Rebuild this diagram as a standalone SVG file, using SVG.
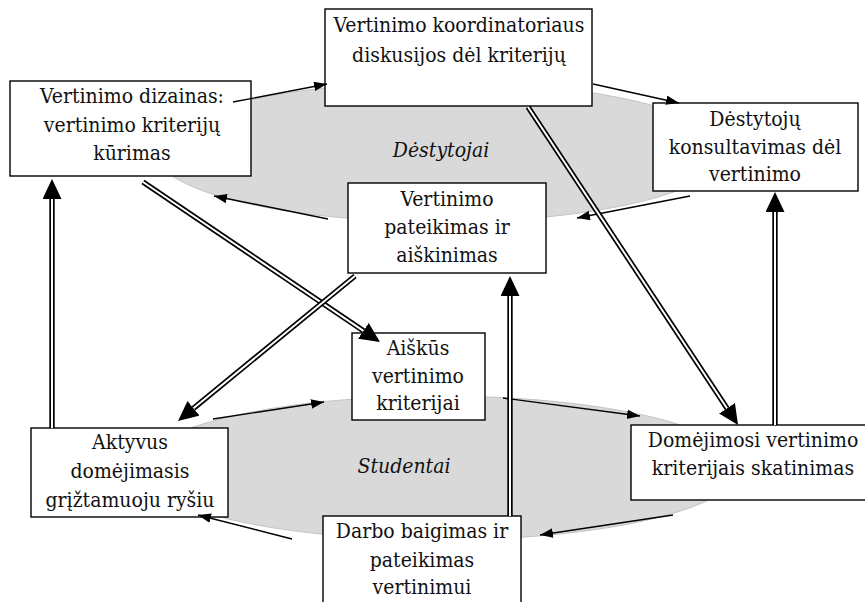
<svg xmlns="http://www.w3.org/2000/svg" width="865" height="602" viewBox="0 0 865 602">
  <style>
    .bg { fill: #ffffff; }
    .zone { fill: #d9d9d9; stroke: #c4c4c4; stroke-width: 1; }
    .box { fill: #ffffff; stroke: #000000; stroke-width: 1.4; }
    .lbl { font-family: "DejaVu Serif Condensed", "DejaVu Serif", serif; font-size: 21px; fill: #111111; text-anchor: middle; }
    .zone-lbl { font-family: "DejaVu Serif Condensed", "DejaVu Serif", serif; font-size: 21px; font-style: italic; fill: #111111; text-anchor: middle; }
    .thin { fill: none; stroke: #000000; stroke-width: 1.4; marker-end: url(#head-small); }
    .dbl-outer { fill: none; stroke: #000000; stroke-width: 5.4; marker-end: url(#head-large); }
    .dbl-inner { fill: none; stroke: #ffffff; stroke-width: 2; }
  </style>
  <defs>
    <marker id="head-small" markerUnits="userSpaceOnUse" markerWidth="14" markerHeight="10" refX="13" refY="4.75" orient="auto">
      <path d="M0,0 L13,4.75 L0,9.5 z" fill="#000000"/>
    </marker>
    <marker id="head-large" markerUnits="userSpaceOnUse" markerWidth="22" markerHeight="20" refX="0" refY="9.5" orient="auto">
      <path d="M0,0 L20,9.5 L0,19 z" fill="#000000"/>
    </marker>
  </defs>

  <rect class="bg" x="0" y="0" width="865" height="602"/>

  <!-- shaded group areas -->
  <g id="zone-destytojai">
    <ellipse class="zone" cx="440" cy="152" rx="285" ry="70"/>
    <text class="zone-lbl" x="441" y="157">Dėstytojai</text>
  </g>
  <g id="zone-studentai">
    <ellipse class="zone" cx="440" cy="468" rx="300" ry="72"/>
    <text class="zone-lbl" x="404" y="473">Studentai</text>
  </g>

  <!-- activity boxes -->
  <g id="n-dizainas">
    <rect class="box" x="10" y="81" width="241" height="95"/>
    <text class="lbl" x="132" y="103">Vertinimo dizainas:</text>
    <text class="lbl" x="132" y="132">vertinimo kriterijų</text>
    <text class="lbl" x="132" y="160">kūrimas</text>
  </g>
  <g id="n-koordinatorius">
    <rect class="box" x="325" y="9" width="267" height="97"/>
    <text class="lbl" x="459" y="32">Vertinimo koordinatoriaus</text>
    <text class="lbl" x="459" y="62">diskusijos dėl kriterijų</text>
  </g>
  <g id="n-konsultavimas">
    <rect class="box" x="653" y="103" width="205" height="88"/>
    <text class="lbl" x="755" y="126">Dėstytojų</text>
    <text class="lbl" x="755" y="154">konsultavimas dėl</text>
    <text class="lbl" x="755" y="181">vertinimo</text>
  </g>
  <g id="n-pateikimas">
    <rect class="box" x="348" y="183" width="198" height="90"/>
    <text class="lbl" x="447" y="206">Vertinimo</text>
    <text class="lbl" x="447" y="234">pateikimas ir</text>
    <text class="lbl" x="447" y="262">aiškinimas</text>
  </g>
  <g id="n-kriterijai">
    <rect class="box" x="352" y="333" width="133" height="87"/>
    <text class="lbl" x="418" y="355">Aiškūs</text>
    <text class="lbl" x="418" y="383">vertinimo</text>
    <text class="lbl" x="418" y="410">kriterijai</text>
  </g>
  <g id="n-aktyvus">
    <rect class="box" x="31" y="428" width="197" height="89"/>
    <text class="lbl" x="130" y="449">Aktyvus</text>
    <text class="lbl" x="130" y="478">domėjimasis</text>
    <text class="lbl" x="130" y="507">grįžtamuoju ryšiu</text>
  </g>
  <g id="n-skatinimas">
    <rect class="box" x="631" y="425" width="245" height="75"/>
    <text class="lbl" x="753" y="447">Domėjimosi vertinimo</text>
    <text class="lbl" x="753" y="475">kriterijais skatinimas</text>
  </g>
  <g id="n-darbas">
    <rect class="box" x="323" y="516" width="198" height="100"/>
    <text class="lbl" x="422" y="538">Darbo baigimas ir</text>
    <text class="lbl" x="422" y="567">pateikimas</text>
    <text class="lbl" x="422" y="594">vertinimui</text>
  </g>

  <!-- connectors -->
  <g id="connectors">
    <!-- cycle around the lecturers' area -->
    <path class="thin" d="M233,102 L327,84"/>
    <path class="thin" d="M593,84 L679,103"/>
    <path class="thin" d="M690,196 L577,218"/>
    <path class="thin" d="M328,219 L214,196"/>
    <!-- cycle around the students' area -->
    <path class="thin" d="M213,419 L324,402"/>
    <path class="thin" d="M503,398 L640,416"/>
    <path class="thin" d="M673,515 L540,535"/>
    <path class="thin" d="M292,539 L198,515"/>

    <!-- double-line links between the two areas -->
    <path class="dbl-outer" d="M52,428 L52,199"/>
    <path class="dbl-inner" d="M52,428 L52,199"/>
    <path class="dbl-outer" d="M510,516 L510,296"/>
    <path class="dbl-inner" d="M510,516 L510,296"/>
    <path class="dbl-outer" d="M775,425 L775,212"/>
    <path class="dbl-inner" d="M775,425 L775,212"/>
    <path class="dbl-outer" d="M143,182 L363.4,330.8"/>
    <path class="dbl-inner" d="M143,182 L363.4,330.8"/>
    <path class="dbl-outer" d="M355,276 L193.5,408.3"/>
    <path class="dbl-inner" d="M355,276 L193.5,408.3"/>
    <path class="dbl-outer" d="M528,107 L727,408.3"/>
    <path class="dbl-inner" d="M528,107 L727,408.3"/>
  </g>
</svg>
